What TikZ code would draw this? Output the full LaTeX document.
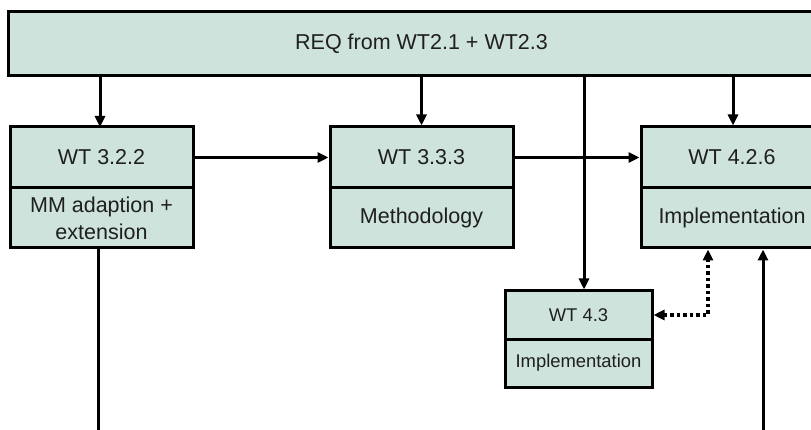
\documentclass[tikz,border=0pt]{standalone}
\usepackage{fontspec}
\setmainfont{Liberation Sans}
\usetikzlibrary{arrows.meta}
\definecolor{boxfill}{RGB}{205,227,219}
\definecolor{ink}{RGB}{0,0,0}
\tikzset{
  cell/.style={draw=ink, fill=boxfill, line width=3pt, rectangle, inner sep=0pt,
    align=center, text=black!88, font=\fontsize{21.5}{25}\selectfont},
  smallcell/.style={cell, font=\fontsize{18.4}{22}\selectfont},
  arr/.style={draw=ink, line width=3pt, -{Triangle[length=11pt,width=10pt]}},
  plainline/.style={draw=ink, line width=3pt},
  dotarr/.style={draw=ink, line width=3.5pt, dash pattern=on 3.5pt off 3pt,
    {Triangle[length=11pt,width=10pt]}-{Triangle[length=11pt,width=10pt]}}
}
\begin{document}
\begin{tikzpicture}[x=1pt, y=-1pt]
\clip (0,0) rectangle (811,430);

% requirements banner
\node[cell, minimum width=827pt, minimum height=64pt] (req) at (421.5,44) {REQ from WT2.1 + WT2.3};

% WT 3.2.2
\node[cell, minimum width=183pt, minimum height=61pt] (a322h) at (101.5,157.5) {WT 3.2.2};
\node[cell, minimum width=183pt, minimum height=60pt] (a322b) at (101.5,218) {MM adaption +\\[2pt]extension};

% WT 3.3.3
\node[cell, minimum width=183pt, minimum height=61pt] (b333h) at (421.5,157.5) {WT 3.3.3};
\node[cell, minimum width=183pt, minimum height=60pt] (b333b) at (421.5,218) {Methodology};

% WT 4.2.6
\node[cell, minimum width=182pt, minimum height=61pt] (c426h) at (732,157.5) {WT 4.2.6};
\node[cell, minimum width=182pt, minimum height=60pt] (c426b) at (732,218) {Implementation};

% WT 4.3
\node[smallcell, minimum width=147pt, minimum height=48pt] (d43h) at (578.5,315) {WT 4.3};
\node[smallcell, minimum width=147pt, minimum height=48pt] (d43b) at (578.5,363) {Implementation};

% free ends at the lower border
\coordinate (leftend) at (98,432);
\coordinate (rightend) at (763,432);

% banner feeds
\draw[arr] (req.south -| a322h.north) ++(-1.5,0) -- ++(0,49.5);
\draw[arr] (req.south -| b333h.north) -- (b333h.north);
\draw[arr] ([xshift=1pt]req.south -| c426h.north) -- ([xshift=1pt]c426h.north);
\draw[arr] ([xshift=5.5pt]req.south -| d43h.north) -- ([xshift=5.5pt]d43h.north);

% chain between work tasks
\draw[arr] (a322h.east) -- (b333h.west);
\draw[arr] (b333h.east) -- (c426h.west);

% outgoing and incoming lines
\draw[plainline] (a322b.south -| leftend) -- (leftend);
\draw[arr] (rightend) -- (rightend |- c426b.south);

% exchange between WT 4.3 and WT 4.2.6
\draw[dotarr] (d43h.east) -| ([xshift=-24pt]c426b.south);
\end{tikzpicture}
\end{document}
